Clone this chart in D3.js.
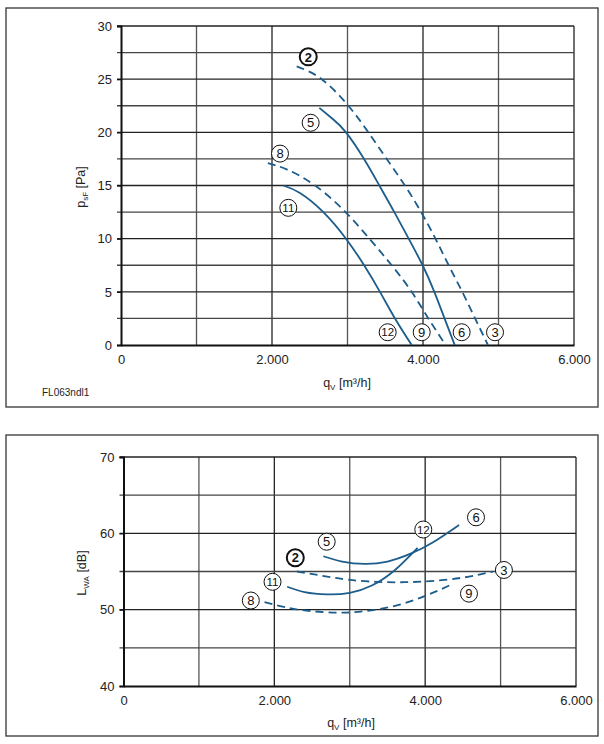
<!DOCTYPE html>
<html><head><meta charset="utf-8">
<script src="https://cdn.jsdelivr.net/npm/d3@7"></script>
<style>body{margin:0;background:#fff}svg{display:block}</style>
</head><body>
<svg id="c" width="604" height="744"></svg>
<script>
// ---- data ----
const xTicks = [0, 2000, 4000, 6000];
const xTickLabels = ["0", "2.000", "4.000", "6.000"];
const pTicks = [0, 5, 10, 15, 20, 25, 30];
const lTicks = [40, 50, 60, 70];

// pressure curves [q, p]
const p_2_3 = [[2327,26.2],[2658,25.0],[3011,22.5],[3276,20.0],[3519,17.5],[3760,15.0],[3975,12.5],[4165,10.0],[4340,7.5],[4520,5.0],[4690,2.5],[4860,0]];
const p_5_6 = [[2627,22.3],[2805,21.25],[2980,20.0],[3219,17.5],[3422,15.0],[3620,12.5],[3810,10.0],[3995,7.5],[4150,5.0],[4285,2.5],[4420,0]];
const p_8_9 = [[1945,17.1],[2200,16.5],[2570,15.0],[2960,12.6],[3290,10.0],[3585,7.5],[3850,5.0],[4071,2.5],[4300,0]];
const p_11_12 = [[2150,15.0],[2370,14.3],[2680,12.5],[2980,10.0],[3220,7.5],[3430,5.0],[3629,2.5],[3850,0]];
// sound curves [q, L]
const l_2_3 = [[2300,55.0],[2600,54.5],[3000,53.9],[3500,53.6],[4000,53.7],[4500,54.2],[4900,55.0]];
const l_5_6 = [[2650,57.0],[2900,56.3],[3200,56.0],[3500,56.3],[3800,57.3],[4100,58.8],[4450,61.1]];
const l_8_9 = [[1870,51.0],[2200,50.2],[2500,49.8],[2850,49.6],[3200,49.8],[3600,50.5],[4000,51.8],[4350,53.3]];
const l_11_12 = [[2170,53.0],[2400,52.3],[2700,52.0],[3000,52.2],[3300,53.2],[3600,55.2],[3900,58.1]];

const pCurves = [{d:p_2_3,dash:true},{d:p_5_6,dash:false},{d:p_8_9,dash:true},{d:p_11_12,dash:false}];
const lCurves = [{d:l_2_3,dash:true},{d:l_5_6,dash:false},{d:l_8_9,dash:true},{d:l_11_12,dash:false}];

// labels [text, q, value, bold]
const pLabels = [["2",2480,27.1,true],["5",2512,20.9,false],["8",2106,18.0,false],["11",2216,12.9,false],
                 ["12",3532,1.2,false],["9",3983,1.2,false],["6",4512,1.2,false],["3",4954,1.2,false]];
const lLabels = [["5",2694,58.9,false],["2",2278,56.8,true],["11",1976,53.65,false],["8",1688,51.2,false],
                 ["12",3975,60.5,false],["6",4674,62.1,false],["3",5044,55.2,false],["9",4581,52.1,false]];

const svg = d3.select("#c");
const FONT = "Liberation Sans, Arial, sans-serif";
const BLUE = "#1d5d8c";

function panel(o){
  const g = svg.append("g");
  g.append("rect").attr("x",o.box[0]).attr("y",o.box[1]).attr("width",o.box[2]).attr("height",o.box[3])
    .attr("fill","none").attr("stroke","#444").attr("stroke-width",1.4);
  const x = d3.scaleLinear().domain([0,6000]).range([o.l,o.r]);
  const y = d3.scaleLinear().domain(o.yd).range([o.b,o.t]);
  // grid
  const xs = d3.range(1000,6001,1000);
  g.selectAll(".vg").data(xs).join("line")
    .attr("x1",d=>x(d)).attr("x2",d=>x(d)).attr("y1",o.t).attr("y2",o.b)
    .attr("stroke",(d,i)=> d%2000===0 ? "#222" : "#555").attr("stroke-width",1.3);
  const ys = d3.range(o.yd[0]+o.minor,o.yd[1]+0.001,o.minor);
  g.selectAll(".hg").data(ys).join("line")
    .attr("x1",o.l-4).attr("x2",o.r).attr("y1",d=>y(d)).attr("y2",d=>y(d))
    .attr("stroke",(d)=> Math.abs(d % o.major) < 1e-6 ? "#222" : "#444").attr("stroke-width",1.3);
  // axes (d3 axes, styled)
  const ax = g.append("g").attr("transform",`translate(0,${o.b})`)
    .call(d3.axisBottom(x).tickValues(xTicks).tickFormat((d,i)=>xTickLabels[i]).tickSize(0).tickPadding(10));
  ax.select(".domain").attr("stroke","#111").attr("stroke-width",2);
  ax.selectAll("text").attr("font-family",FONT).attr("font-size",13).attr("fill","#222");
  const ay = g.append("g").attr("transform",`translate(${o.l},0)`)
    .call(d3.axisLeft(y).tickValues(o.ticks).tickSize(4).tickPadding(5));
  ay.select(".domain").attr("stroke","#111").attr("stroke-width",2);
  ay.selectAll(".tick line").attr("stroke","#111").attr("stroke-width",1.3);
  ay.selectAll("text").attr("font-family",FONT).attr("font-size",13).attr("fill","#222");
  // curves
  const line = d3.line().x(d=>x(d[0])).y(d=>y(d[1])).curve(d3.curveNatural);
  g.selectAll(".cv").data(o.curves).join("path")
    .attr("d",c=>line(c.d)).attr("fill","none").attr("stroke",BLUE).attr("stroke-width",1.8)
    .attr("stroke-dasharray",c=>c.dash?"8,5":null);
  // circled labels
  const lb = g.selectAll(".lb").data(o.labels).join("g")
    .attr("transform",d=>`translate(${x(d[1])},${y(d[2])})`);
  lb.append("circle").attr("r",8.5).attr("fill","#fff").attr("stroke","#111").attr("stroke-width",d=>d[3]?2:1);
  lb.append("text").text(d=>d[0]).attr("text-anchor","middle").attr("dy","0.36em")
    .attr("font-family",FONT).attr("font-size",d=>d[0].length>1?11.5:13)
    .attr("font-weight",d=>d[3]?"bold":"normal").attr("fill","#111");
  // x title
  const xt = g.append("text").attr("x",o.xt[0]).attr("y",o.xt[1]).attr("text-anchor","middle")
    .attr("font-family",FONT).attr("font-size",12.5).attr("fill","#222");
  xt.append("tspan").text("q");
  xt.append("tspan").text("V").attr("font-size",8).attr("dy",3);
  xt.append("tspan").text(" [m³/h]").attr("dy",-3);
  // y title
  const yt = g.append("text").attr("transform",`translate(${o.yt[0]},${o.yt[1]}) rotate(-90)`)
    .attr("text-anchor","middle").attr("font-family",FONT).attr("font-size",12.5).attr("fill","#222");
  yt.append("tspan").text(o.ytitle[0]);
  yt.append("tspan").text(o.ytitle[1]).attr("font-size",8).attr("dy",3);
  yt.append("tspan").text(o.ytitle[2]).attr("dy",-3);
  return g;
}

panel({box:[6,8,592,399], l:121, r:574, t:26, b:345, yd:[0,30], minor:2.5, major:5, ticks:pTicks,
  curves:pCurves, labels:pLabels, xt:[347,387], yt:[85,187], ytitle:["p","sF"," [Pa]"]});
panel({box:[6,435,592,301], l:123.5, r:576, t:457, b:686, yd:[40,70], minor:5, major:10, ticks:lTicks,
  curves:lCurves, labels:lLabels, xt:[351,727], yt:[86,573], ytitle:["L","WA"," [dB]"]});

svg.append("text").attr("x",42).attr("y",396).text("FL063ndl1")
  .attr("font-family",FONT).attr("font-size",10).attr("fill","#222");
</script>
</body></html>
